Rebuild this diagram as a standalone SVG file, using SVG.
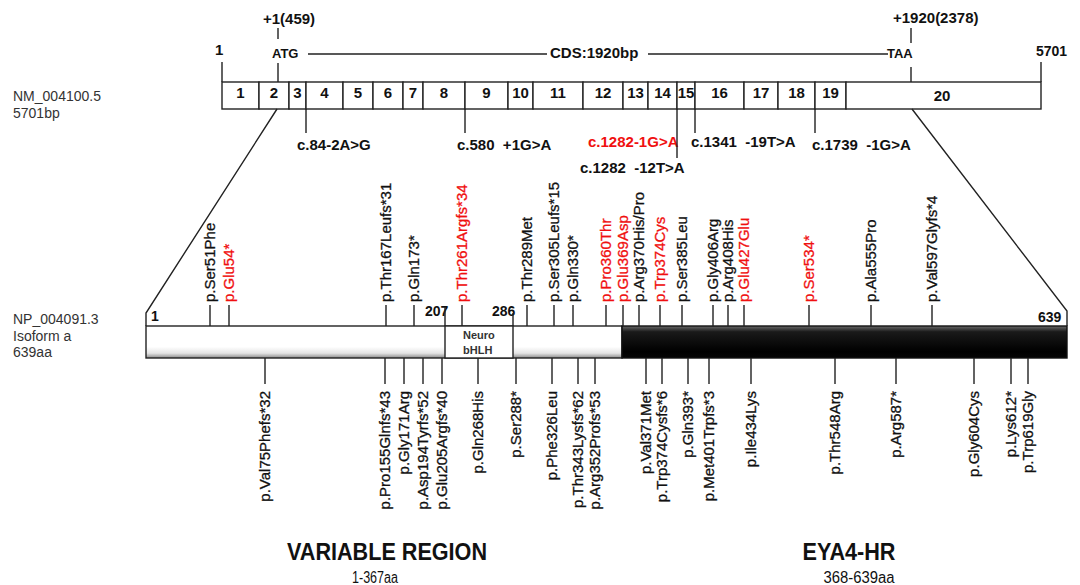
<svg xmlns="http://www.w3.org/2000/svg" width="1080" height="585" viewBox="0 0 1080 585">
<style>
text{font-family:"Liberation Sans",Arial,sans-serif;fill:#111}
.ex{fill:#fff;stroke:#222;stroke-width:1.4}
.en{font-size:15px;font-weight:bold;text-anchor:middle}
.mut{font-size:15px;font-weight:bold}
.red{fill:#f01010}
.pl{font-size:15px;stroke:#111;stroke-width:0.3}
.pl.red{stroke:#f01010}
.up{text-anchor:start}
.dn{text-anchor:end}
.ln{stroke:#222;stroke-width:1.4;fill:none}
.side{font-size:14px;fill:#333}
.num{font-size:14px;font-weight:bold}
.big{font-size:24px;font-weight:bold;text-anchor:middle}
.sub{font-size:16px;text-anchor:middle}
</style>
<defs>
<linearGradient id="gw" x1="0" y1="0" x2="0" y2="1">
<stop offset="0" stop-color="#fff"/><stop offset="0.65" stop-color="#fff"/><stop offset="0.85" stop-color="#e4e4e4"/><stop offset="1" stop-color="#8a8a8a"/>
</linearGradient>
<linearGradient id="gb" x1="0" y1="0" x2="0" y2="1">
<stop offset="0" stop-color="#6a6a6a"/><stop offset="0.18" stop-color="#1a1a1a"/><stop offset="0.8" stop-color="#000"/><stop offset="1" stop-color="#050505"/>
</linearGradient>
</defs>

<g id="gene-labels">
<text class="side" x="13" y="101">NM_004100.5</text>
<text class="side" x="13" y="118">5701bp</text>
</g>

<g id="gene-header">
<text class="mut" x="263" y="24">+1(459)</text>
<text class="mut" x="893" y="23">+1920(2378)</text>
<text class="mut" x="215" y="55">1</text>
<text class="mut" x="272" y="58" style="font-size:13px">ATG</text>
<text class="mut" x="550" y="58">CDS:1920bp</text>
<text class="mut" x="887" y="58" style="font-size:13px">TAA</text>
<text class="num" x="1036" y="56">5701</text>
</g>

<g id="gene">
<g id="exon-1"><rect class="ex" x="222" y="82" width="37" height="27"/><text class="en" x="240.5" y="98">1</text></g>
<g id="exon-2"><rect class="ex" x="259" y="82" width="30" height="27"/><text class="en" x="274" y="98">2</text></g>
<g id="exon-3"><rect class="ex" x="289" y="82" width="17" height="27"/><text class="en" x="297.5" y="98">3</text></g>
<g id="exon-4"><rect class="ex" x="306" y="82" width="37" height="27"/><text class="en" x="324.5" y="98">4</text></g>
<g id="exon-5"><rect class="ex" x="343" y="82" width="30" height="27"/><text class="en" x="358" y="98">5</text></g>
<g id="exon-6"><rect class="ex" x="373" y="82" width="30" height="27"/><text class="en" x="388" y="98">6</text></g>
<g id="exon-7"><rect class="ex" x="403" y="82" width="20" height="27"/><text class="en" x="413" y="98">7</text></g>
<g id="exon-8"><rect class="ex" x="423" y="82" width="42" height="27"/><text class="en" x="444" y="98">8</text></g>
<g id="exon-9"><rect class="ex" x="465" y="82" width="43" height="27"/><text class="en" x="486.5" y="98">9</text></g>
<g id="exon-10"><rect class="ex" x="508" y="82" width="25" height="27"/><text class="en" x="520.5" y="98">10</text></g>
<g id="exon-11"><rect class="ex" x="533" y="82" width="50" height="27"/><text class="en" x="558" y="98">11</text></g>
<g id="exon-12"><rect class="ex" x="583" y="82" width="40" height="27"/><text class="en" x="603" y="98">12</text></g>
<g id="exon-13"><rect class="ex" x="623" y="82" width="25" height="27"/><text class="en" x="635.5" y="98">13</text></g>
<g id="exon-14"><rect class="ex" x="648" y="82" width="29" height="27"/><text class="en" x="662.5" y="98">14</text></g>
<g id="exon-15"><rect class="ex" x="677" y="82" width="18" height="27"/><text class="en" x="686" y="98">15</text></g>
<g id="exon-16"><rect class="ex" x="695" y="82" width="49" height="27"/><text class="en" x="719.5" y="98">16</text></g>
<g id="exon-17"><rect class="ex" x="744" y="82" width="34" height="27"/><text class="en" x="761" y="98">17</text></g>
<g id="exon-18"><rect class="ex" x="778" y="82" width="37" height="27"/><text class="en" x="796.5" y="98">18</text></g>
<g id="exon-19"><rect class="ex" x="815" y="82" width="31" height="27"/><text class="en" x="830.5" y="98">19</text></g>
<g id="exon-20"><rect class="ex" x="846" y="82" width="195" height="27"/><text class="en" x="942" y="101">20</text></g>
</g>

<g id="splice-variants">
<text class="mut" x="297" y="150">c.84-2A&gt;G</text>
<text class="mut" x="457" y="150" xml:space="preserve">c.580  +1G&gt;A</text>
<text class="mut red" x="588" y="147">c.1282-1G&gt;A</text>
<text class="mut" x="691" y="147" xml:space="preserve">c.1341  -19T&gt;A</text>
<text class="mut" x="812" y="150" xml:space="preserve">c.1739  -1G&gt;A</text>
<text class="mut" x="580" y="173" xml:space="preserve">c.1282  -12T&gt;A</text>
</g>

<g id="protein-labels">
<text class="side" x="13" y="324">NP_004091.3</text>
<text class="side" x="13" y="341">Isoform  a</text>
<text class="side" x="13" y="357">639aa</text>
</g>

<g id="protein">
<rect x="146" y="326" width="476" height="32" fill="url(#gw)" stroke="#222" stroke-width="1.4"/>
<rect x="622" y="326" width="445" height="32" fill="url(#gb)" stroke="#111" stroke-width="1.4"/>
<g id="bhlh"><rect x="445" y="326" width="68" height="32" fill="#fff" stroke="#222" stroke-width="1.4"/>
<text x="463" y="339" style="font-size:11px;font-weight:bold;fill:#333">Neuro</text>
<text x="463" y="354" style="font-size:11px;font-weight:bold;fill:#333">bHLH</text></g>
<text class="num" x="151" y="321">1</text>
<text class="num" x="425" y="316">207</text>
<text class="num" x="492" y="316">286</text>
<text class="num" x="1038" y="322">639</text>
</g>

<g id="connectors" class="ln">
<path d="M278 28V39M278 63V82M222 62V82M911 28V43M911 67V82M1041 62V82"/>
<path d="M308 54H547M648 54H888"/>
<path d="M306 109V133M465 109V133M677 109V158M695 109V133M815 109V133"/>
<path d="M277 109L146 313V326M912 109L1067 311V326"/>
<path d="M445 307V326M513 313V326"/>
<path d="M210 305V326M229 305V326M386 305V326M414 305V326M462 305V326M527 305V326M554 305V326M573 305V326M606 305V326M623 305V326M639 305V326M660 305V326M682 305V326M713 305V326M728 305V326M744 305V326M809 305V326M871 305V326M932 305V326"/>
<path d="M265 358V384M385 358V384M404 358V384M423 358V384M442 358V384M478 358V384M516 358V384M552 358V384M578 358V384M595 358V384M646 358V384M662 358V384M688 358V384M709 358V384M751 358V384M835 358V384M896 358V384M974 358V384M1011 358V384M1028 358V384"/>
</g>

<g id="variants-above">
<text class="pl up" transform="translate(214.5,302) rotate(-90)">p.Ser51Phe</text>
<text class="pl up red" transform="translate(233.5,302) rotate(-90)">p.Glu54*</text>
<text class="pl up" transform="translate(390.5,302) rotate(-90)">p.Thr167Leufs*31</text>
<text class="pl up" transform="translate(418.5,302) rotate(-90)">p.Gln173*</text>
<text class="pl up red" transform="translate(466.5,302) rotate(-90)">p.Thr261Argfs*34</text>
<text class="pl up" transform="translate(531.5,302) rotate(-90)">p.Thr289Met</text>
<text class="pl up" transform="translate(558.5,302) rotate(-90)">p.Ser305Leufs*15</text>
<text class="pl up" transform="translate(577.5,302) rotate(-90)">p.Gln330*</text>
<text class="pl up red" transform="translate(610.5,302) rotate(-90)">p.Pro360Thr</text>
<text class="pl up red" transform="translate(627.5,302) rotate(-90)">p.Glu369Asp</text>
<text class="pl up" transform="translate(643.5,302) rotate(-90)">p.Arg370His/Pro</text>
<text class="pl up red" transform="translate(664.5,302) rotate(-90)">p.Trp374Cys</text>
<text class="pl up" transform="translate(686.5,302) rotate(-90)">p.Ser385Leu</text>
<text class="pl up" transform="translate(717.5,302) rotate(-90)">p.Gly406Arg</text>
<text class="pl up" transform="translate(732.5,302) rotate(-90)">p.Arg408His</text>
<text class="pl up red" transform="translate(748.5,302) rotate(-90)">p.Glu427Glu</text>
<text class="pl up red" transform="translate(813.5,302) rotate(-90)">p.Ser534*</text>
<text class="pl up" transform="translate(875.5,302) rotate(-90)">p.Ala555Pro</text>
<text class="pl up" transform="translate(936.5,302) rotate(-90)">p.Val597Glyfs*4</text>
</g>

<g id="variants-below">
<text class="pl dn" transform="translate(269.5,391) rotate(-90)">p.Val75Phefs*32</text>
<text class="pl dn" transform="translate(389.5,391) rotate(-90)">p.Pro155Glnfs*43</text>
<text class="pl dn" transform="translate(408.5,391) rotate(-90)">p.Gly171Arg</text>
<text class="pl dn" transform="translate(427.5,391) rotate(-90)">p.Asp194Tyrfs*52</text>
<text class="pl dn" transform="translate(446.5,391) rotate(-90)">p.Glu205Argfs*40</text>
<text class="pl dn" transform="translate(482.5,391) rotate(-90)">p.Gln268His</text>
<text class="pl dn" transform="translate(520.5,391) rotate(-90)">p.Ser288*</text>
<text class="pl dn" transform="translate(556.5,391) rotate(-90)">p.Phe326Leu</text>
<text class="pl dn" transform="translate(582.5,391) rotate(-90)">p.Thr343Lysfs*62</text>
<text class="pl dn" transform="translate(599.5,391) rotate(-90)">p.Arg352Profs*53</text>
<text class="pl dn" transform="translate(650.5,391) rotate(-90)">p.Val371Met</text>
<text class="pl dn" transform="translate(666.5,391) rotate(-90)">p.Trp374Cysfs*6</text>
<text class="pl dn" transform="translate(692.5,391) rotate(-90)">p.Gln393*</text>
<text class="pl dn" transform="translate(713.5,391) rotate(-90)">p.Met401Trpfs*3</text>
<text class="pl dn" transform="translate(755.5,391) rotate(-90)">p.Ile434Lys</text>
<text class="pl dn" transform="translate(839.5,391) rotate(-90)">p.Thr548Arg</text>
<text class="pl dn" transform="translate(900.5,391) rotate(-90)">p.Arg587*</text>
<text class="pl dn" transform="translate(978.5,391) rotate(-90)">p.Gly604Cys</text>
<text class="pl dn" transform="translate(1015.5,391) rotate(-90)">p.Lys612*</text>
<text class="pl dn" transform="translate(1032.5,391) rotate(-90)">p.Trp619Gly</text>
</g>

<g id="region-variable">
<text class="big" x="387" y="560" textLength="200" lengthAdjust="spacingAndGlyphs">VARIABLE REGION</text>
<text class="sub" x="375" y="583" textLength="46" lengthAdjust="spacingAndGlyphs">1-367aa</text>
</g>
<g id="region-eya4hr">
<text class="big" x="849" y="560" textLength="93" lengthAdjust="spacingAndGlyphs">EYA4-HR</text>
<text class="sub" x="859" y="583" textLength="71" lengthAdjust="spacingAndGlyphs">368-639aa</text>
</g>
</svg>
